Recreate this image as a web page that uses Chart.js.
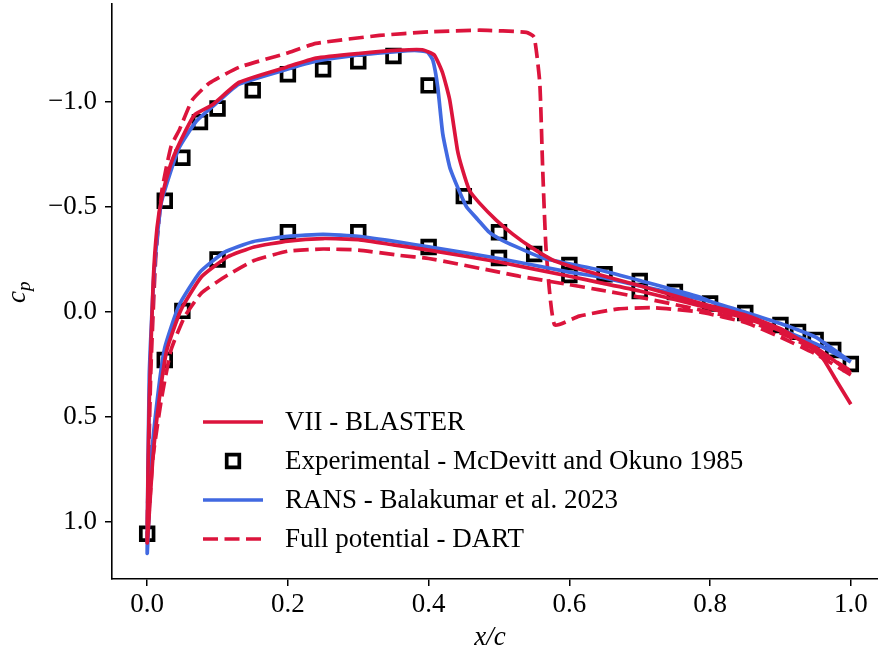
<!DOCTYPE html>
<html>
<head>
<meta charset="utf-8">
<script src="https://cdn.jsdelivr.net/npm/chart.js@4.4.1/dist/chart.umd.min.js"></script>
<style>
  html, body { margin: 0; padding: 0; background: #fff; overflow: hidden; }
  canvas { display: block; }
</style>
</head>
<body>
<canvas id="cpChart" width="900" height="660"></canvas>
<script>
// ---- data ----
// each loop runs trailing edge -> upper surface -> leading edge -> lower surface -> trailing edge
const blasterX = [1.0, 0.98, 0.96, 0.94, 0.9, 0.85, 0.785, 0.7, 0.624, 0.576, 0.545, 0.52, 0.496, 0.472, 0.458, 0.448, 0.441, 0.43, 0.42, 0.408, 0.391, 0.358, 0.3, 0.24, 0.198, 0.131, 0.092, 0.067, 0.046, 0.033, 0.021, 0.014, 0.0085, 0.003, 0.0,
  0.008, 0.017, 0.028, 0.048, 0.077, 0.114, 0.152, 0.2, 0.25, 0.3, 0.35, 0.4, 0.5, 0.6, 0.643, 0.7, 0.785, 0.85, 0.9, 0.95, 1.0];
const blasterCp = [0.44, 0.33, 0.22, 0.16, 0.08, 0.015, -0.043, -0.125, -0.195, -0.248, -0.31, -0.37, -0.438, -0.52, -0.58, -0.68, -0.771, -1.01, -1.138, -1.225, -1.25, -1.248, -1.232, -1.21, -1.167, -1.095, -0.986, -0.938, -0.805, -0.7, -0.548, -0.4, -0.14, 0.42, 1.1,
  0.7, 0.42, 0.18, -0.01, -0.167, -0.262, -0.31, -0.338, -0.35, -0.345, -0.32, -0.295, -0.238, -0.17, -0.14, -0.1, -0.03, 0.03, 0.09, 0.17, 0.29];

const ransX = [1.0, 0.96, 0.913, 0.85, 0.785, 0.7, 0.643, 0.6, 0.562, 0.525, 0.5, 0.486, 0.47, 0.454, 0.443, 0.43, 0.42, 0.413, 0.406, 0.398, 0.38, 0.35, 0.3, 0.24, 0.2, 0.13, 0.1, 0.07, 0.045, 0.02, 0.01, 0.003, 0.0,
  0.006, 0.015, 0.025, 0.045, 0.075, 0.11, 0.15, 0.2, 0.25, 0.3, 0.358, 0.4, 0.5, 0.6, 0.643, 0.7, 0.8, 0.9, 0.95, 1.0];
const ransCp = [0.238, 0.167, 0.1, 0.02, -0.071, -0.15, -0.2, -0.23, -0.257, -0.31, -0.35, -0.38, -0.44, -0.5, -0.58, -0.69, -0.85, -1.07, -1.2, -1.24, -1.247, -1.24, -1.225, -1.195, -1.158, -1.085, -1.0, -0.91, -0.78, -0.52, -0.2, 0.3, 1.15,
  0.7, 0.4, 0.17, -0.03, -0.19, -0.285, -0.335, -0.36, -0.37, -0.36, -0.333, -0.31, -0.255, -0.19, -0.167, -0.125, -0.05, 0.055, 0.12, 0.238];

const dartX = [1.0, 0.95, 0.9, 0.85, 0.785, 0.72, 0.67, 0.614, 0.579, 0.567, 0.562, 0.558, 0.55, 0.539, 0.472, 0.4, 0.33, 0.24, 0.198, 0.131, 0.088, 0.064, 0.046, 0.034, 0.021, 0.012, 0.005, 0.0,
  0.008, 0.02, 0.034, 0.053, 0.077, 0.114, 0.152, 0.2, 0.25, 0.3, 0.358, 0.4, 0.5, 0.529, 0.6, 0.643, 0.7, 0.785, 0.85, 0.9, 0.95, 1.0];
const dartCp = [0.3, 0.2, 0.12, 0.05, 0.0, -0.02, -0.015, 0.02, 0.062, -0.295, -0.69, -1.09, -1.31, -1.333, -1.343, -1.335, -1.318, -1.28, -1.233, -1.167, -1.09, -1.01, -0.87, -0.79, -0.58, -0.25, 0.3, 1.08,
  0.7, 0.42, 0.18, 0.024, -0.09, -0.175, -0.245, -0.29, -0.3, -0.295, -0.27, -0.255, -0.19, -0.17, -0.13, -0.105, -0.07, -0.01, 0.04, 0.1, 0.18, 0.28];

const expX = [0.0, 0.025, 0.05, 0.075, 0.1, 0.15, 0.2, 0.25, 0.3, 0.35, 0.4, 0.45, 0.5, 0.55, 0.6, 0.65, 0.7, 0.75, 0.8, 0.85, 0.9, 0.925, 0.95, 0.975, 1.0,
  0.025, 0.05, 0.1, 0.2, 0.3, 0.4, 0.5, 0.6, 0.7];
const expCp = [1.057, -0.53, -0.735, -0.905, -0.97, -1.057, -1.133, -1.157, -1.195, -1.22, -1.08, -0.552, -0.38, -0.276, -0.224, -0.18, -0.148, -0.095, -0.04, 0.005, 0.062, 0.095, 0.133, 0.181, 0.248,
  0.229, -0.005, -0.25, -0.38, -0.38, -0.31, -0.257, -0.176, -0.1];

const xTicks = [0.0, 0.2, 0.4, 0.6, 0.8, 1.0];
const yTicks = [-1.0, -0.5, 0.0, 0.5, 1.0];
const legendLabels = [
  "VII - BLASTER",
  "Experimental - McDevitt and Okuno 1985",
  "RANS - Balakumar et al. 2023",
  "Full potential - DART",
];

const C = {
  red: "#DC143C",
  blue: "#4169E1",
  font: "'Liberation Serif', 'DejaVu Serif', serif",
  lw: 3.7,
  dash: [15, 6.5],
};

const pts = (xs, ys) => xs.map((x, i) => ({ x: x, y: ys[i] }));
const fmt = (v) => (v < 0 ? "\u2212" : "") + Math.abs(v).toFixed(1);

// legend + axis titles, drawn on top of the plot
const decorPlugin = {
  id: "decor",
  afterDraw(chart) {
    const ctx = chart.ctx;
    ctx.save();
    ctx.font = "27px " + C.font;
    ctx.fillStyle = "#000";
    ctx.textBaseline = "middle";
    ctx.textAlign = "left";
    const rows = [422, 461, 500, 539];
    const x0 = 203, x1 = 263, tx = 285;
    // VII
    ctx.strokeStyle = C.red; ctx.lineWidth = C.lw; ctx.setLineDash([]);
    ctx.beginPath(); ctx.moveTo(x0, rows[0]); ctx.lineTo(x1, rows[0]); ctx.stroke();
    // experimental marker
    ctx.fillStyle = "#fff"; ctx.strokeStyle = "#000"; ctx.lineWidth = 3.7;
    ctx.beginPath(); ctx.rect(233 - 6.3, rows[1] - 6.3, 12.6, 12.6); ctx.fill(); ctx.stroke();
    // RANS
    ctx.strokeStyle = C.blue; ctx.lineWidth = C.lw;
    ctx.beginPath(); ctx.moveTo(x0, rows[2]); ctx.lineTo(x1, rows[2]); ctx.stroke();
    // DART
    ctx.strokeStyle = C.red; ctx.setLineDash(C.dash);
    ctx.beginPath(); ctx.moveTo(x0, rows[3]); ctx.lineTo(x1, rows[3]); ctx.stroke();
    ctx.setLineDash([]);
    ctx.fillStyle = "#000";
    legendLabels.forEach((t, i) => ctx.fillText(t, tx, rows[i] + 1));

    // x label
    ctx.font = "italic 27px " + C.font;
    ctx.textAlign = "center";
    ctx.fillText("x/c", 490, 638);

    // y label c_p, rotated
    ctx.translate(25, 303);
    ctx.rotate(-Math.PI / 2);
    ctx.textAlign = "left";
    ctx.textBaseline = "alphabetic";
    ctx.font = "italic 27px " + C.font;
    ctx.fillText("c", 0, 0);
    ctx.font = "italic 19px " + C.font;
    ctx.fillText("p", 12, 5);
    ctx.restore();
  },
};

function lineSet(label, data, color, dash, order) {
  return {
    label: label,
    data: data,
    showLine: true,
    borderColor: color,
    backgroundColor: color,
    borderWidth: C.lw,
    borderDash: dash,
    pointRadius: 0,
    tension: 0.15,
    fill: false,
    order: order,
  };
}

function axisStyle(ticks, size) {
  return {
    type: "linear",
    grid: { drawOnChartArea: false, drawTicks: true, tickLength: 7, color: "#000", lineWidth: 1.5 },
    border: { display: true, color: "#000", width: 1.6 },
    afterBuildTicks: (axis) => { axis.ticks = ticks.map((v) => ({ value: v })); },
    ticks: {
      color: "#000",
      font: { family: C.font, size: 27 },
      callback: (v) => fmt(v),
      maxRotation: 0,
      autoSkip: false,
    },
    afterFit: size,
  };
}

function buildCpChart(canvasId) {
  const ctx = document.getElementById(canvasId).getContext("2d");
  const xAxis = axisStyle(xTicks, (s) => { s.height = 81; s.paddingLeft = 0; s.paddingRight = 0; });
  xAxis.min = -0.05; xAxis.max = 1.05; xAxis.ticks.padding = 3;
  const yAxis = axisStyle(yTicks, (s) => { s.width = 112; s.paddingTop = 0; s.paddingBottom = 0; });
  yAxis.min = -1.468; yAxis.max = 1.273; yAxis.reverse = true; yAxis.ticks.padding = 8;

  return new Chart(ctx, {
    type: "scatter",
    data: {
      datasets: [
        lineSet(legendLabels[0], pts(blasterX, blasterCp), C.red, [], 1),
        {
          label: legendLabels[1],
          data: pts(expX, expCp),
          showLine: false,
          pointStyle: "rect",
          pointRadius: 9,
          pointBorderWidth: 3.7,
          pointBackgroundColor: "#fff",
          pointBorderColor: "#000",
          order: 4,
        },
        lineSet(legendLabels[2], pts(ransX, ransCp), C.blue, [], 2),
        lineSet(legendLabels[3], pts(dartX, dartCp), C.red, C.dash, 3),
      ],
    },
    options: {
      responsive: false,
      animation: false,
      layout: { autoPadding: false, padding: { left: 0, right: 14, top: 4, bottom: 0 } },
      plugins: { legend: { display: false }, tooltip: { enabled: false } },
      scales: { x: xAxis, y: yAxis },
    },
    plugins: [decorPlugin],
  });
}

buildCpChart("cpChart");
</script>
</body>
</html>
